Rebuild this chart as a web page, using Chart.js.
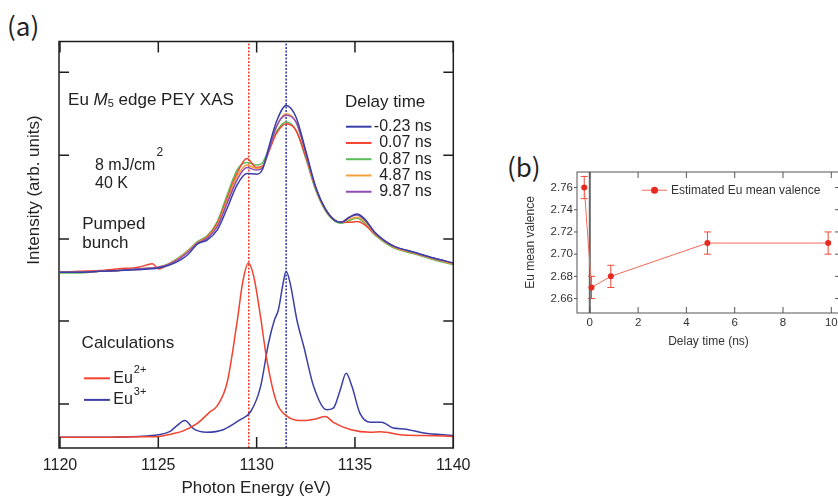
<!DOCTYPE html>
<html>
<head>
<meta charset="utf-8">
<script src="https://cdn.jsdelivr.net/npm/chart.js@4.4.0/dist/chart.umd.min.js"></script>
<style>
html, body { margin: 0; padding: 0; background: #fff; width: 838px; height: 497px; overflow: hidden; position: relative; }
canvas { position: absolute; }
.plabel { position: absolute; font-family: "Noto Sans CJK JP", sans-serif; font-size: 26px; line-height: 26px; color: #222; }
</style>
</head>
<body>
<div class="plabel" style="left:7px;top:12px">(a)</div>
<div class="plabel" style="left:507px;top:153px">(b)</div>
<canvas id="chartA" width="480" height="497" style="left:0;top:0"></canvas>
<canvas id="chartB" width="360" height="210" style="left:490px;top:140px"></canvas>
<script>
// ---- panel (a): Eu M5 edge XAS ----
var energyGrid = [1120, 1121, 1122, 1123, 1124, 1124.7, 1125, 1125.5, 1126, 1126.5, 1127, 1127.5, 1128, 1128.5, 1129, 1129.5, 1130, 1130.3, 1130.6, 1131, 1131.5, 1132, 1132.5, 1133, 1133.5, 1134, 1134.3, 1134.7, 1135.1, 1135.5, 1136, 1136.5, 1137, 1138, 1139, 1140];

var delayLabels = ["-0.23 ns", "0.07 ns", "0.87 ns", "4.87 ns", "9.87 ns"];
var xasM023 = [2.01,2.01,2.02,2.03,2.04,2.05,2.06,2.09,2.14,2.22,2.35,2.40,2.52,2.78,3.06,3.20,3.19,3.25,3.50,3.82,4.02,3.88,3.47,3.04,2.77,2.63,2.61,2.67,2.71,2.65,2.49,2.39,2.32,2.25,2.18,2.12];
var xas007 = [2.01,2.02,2.03,2.05,2.07,2.11,2.05,2.10,2.17,2.26,2.37,2.44,2.60,2.90,3.20,3.38,3.27,3.29,3.45,3.68,3.80,3.72,3.40,3.02,2.76,2.63,2.61,2.61,2.62,2.58,2.47,2.38,2.31,2.24,2.17,2.11];
var xas087 = [2.00,2.00,2.02,2.03,2.05,2.06,2.07,2.11,2.18,2.27,2.38,2.45,2.62,2.94,3.24,3.33,3.30,3.33,3.48,3.70,3.82,3.72,3.38,3.00,2.75,2.62,2.60,2.63,2.66,2.60,2.46,2.37,2.30,2.23,2.16,2.10];
var xas487 = [2.01,2.01,2.02,2.03,2.05,2.06,2.07,2.10,2.17,2.26,2.37,2.43,2.58,2.87,3.16,3.30,3.26,3.28,3.46,3.76,3.92,3.82,3.44,3.02,2.76,2.63,2.61,2.65,2.67,2.62,2.48,2.38,2.31,2.24,2.17,2.11];
var xas987 = [2.01,2.01,2.02,2.03,2.05,2.06,2.07,2.10,2.16,2.25,2.36,2.42,2.56,2.84,3.12,3.27,3.24,3.27,3.46,3.76,3.90,3.82,3.45,3.03,2.77,2.63,2.61,2.67,2.70,2.64,2.49,2.39,2.32,2.25,2.18,2.12];

var calcEnergyEu2 = [1120, 1122, 1124, 1125, 1125.7, 1126.3, 1127, 1127.6, 1128, 1128.5, 1129, 1129.3, 1129.58, 1129.85, 1130.2, 1130.5, 1131, 1131.5, 1132.4, 1133, 1133.5, 1133.9, 1134.8, 1135.8, 1136.3, 1137.3, 1138.5, 1140];
var calcEu2 = [0.02,0.02,0.025,0.03,0.06,0.10,0.19,0.32,0.40,0.68,1.40,1.90,2.12,1.96,1.47,0.98,0.45,0.28,0.22,0.24,0.27,0.20,0.11,0.08,0.085,0.05,0.04,0.03];
var calcEnergyEu3 = [1120, 1122, 1124, 1125, 1125.6, 1125.95, 1126.35, 1126.8, 1127.45, 1128.3, 1129.15, 1129.7, 1130.2, 1130.6, 1130.9, 1131.1, 1131.35, 1131.5, 1131.7, 1132.05, 1132.4, 1132.9, 1133.55, 1133.9, 1134.25, 1134.55, 1134.85, 1135.25, 1135.8, 1136.35, 1136.95, 1137.5, 1138.5, 1140];
var calcEu3 = [0.02,0.02,0.03,0.05,0.09,0.16,0.22,0.12,0.08,0.11,0.23,0.33,0.63,1.15,1.43,1.55,1.88,2.02,1.88,1.43,1.11,0.63,0.35,0.37,0.59,0.79,0.63,0.31,0.20,0.20,0.13,0.12,0.07,0.04];

var peakLines = [1129.6, 1131.5];
var energyTicks = [1120, 1125, 1130, 1135, 1140];
var intensityTicks = [0.42, 1.42, 2.41, 3.42, 4.42];

// ---- panel (b): mean valence ----
var delayTime = [-0.23, 0.07, 0.87, 4.87, 9.87];
var meanValence = [2.76, 2.67, 2.68, 2.71, 2.71];
var valenceErr = [0.01, 0.01, 0.01, 0.01, 0.01];
var delayTicks = [0, 2, 4, 6, 8, 10];
var valenceTicks = [2.66, 2.68, 2.70, 2.72, 2.74, 2.76];

var FONT = '"Liberation Sans", Arial, sans-serif';
var delayColors = ["#3a3fa6", "#f1432f", "#5bbd5a", "#f4a040", "#8e4cb5"];
var eu2Color = "#f1432f", eu3Color = "#3a3fa6";
var yMinA = -0.11, yMaxA = 4.79;
var yMinB = 2.647, yMaxB = 2.774;

function xy(xs, ys) {
    return xs.map(function (v, i) { return {x: v, y: ys[i]}; });
}
function font(size, style) {
    return (style ? style + " " : "") + size + "px " + FONT;
}

// frame with ticks on all four sides (positive = inward)
function drawFrame(chart, o) {
    var ctx = chart.ctx, a = chart.chartArea, x = chart.scales.x, y = chart.scales.y;
    ctx.save();
    ctx.strokeStyle = o.color;
    ctx.lineWidth = o.width;
    ctx.strokeRect(a.left, a.top, a.right - a.left, a.bottom - a.top);
    ctx.beginPath();
    x.ticks.forEach(function (t) {
        var p = x.getPixelForValue(t.value);
        ctx.moveTo(p, a.bottom); ctx.lineTo(p, a.bottom - o.bottom);
        ctx.moveTo(p, a.top); ctx.lineTo(p, a.top + o.top);
    });
    y.ticks.forEach(function (t) {
        var p = y.getPixelForValue(t.value);
        ctx.moveTo(a.left, p); ctx.lineTo(a.left + o.left, p);
        ctx.moveTo(a.right, p); ctx.lineTo(a.right - o.right, p);
    });
    ctx.stroke();
    ctx.restore();
}

var decorA = {
    id: "decorA",
    afterDatasetsDraw: function (chart) {
        var ctx = chart.ctx, x = chart.scales.x, y = chart.scales.y, a = chart.chartArea;
        drawFrame(chart, {color: "#1e1e1e", width: 1.5, left: 10, right: 10, top: 11, bottom: 11});
        ctx.save();
        ctx.fillStyle = "#222";
        ctx.textBaseline = "middle";

        // y axis title
        ctx.save();
        ctx.translate(a.left - 24.5, y.getPixelForValue(3.0));
        ctx.rotate(-Math.PI / 2);
        ctx.textAlign = "center";
        ctx.font = font(17);
        ctx.fillText("Intensity (arb. units)", 0, 0);
        ctx.restore();

        // Eu M5 edge PEY XAS
        var px = x.getPixelForValue(1120.41), py = y.getPixelForValue(4.08);
        ctx.font = font(17); ctx.fillText("Eu ", px, py); px += ctx.measureText("Eu ").width;
        ctx.font = font(17, "italic"); ctx.fillText("M", px, py); px += ctx.measureText("M").width;
        ctx.font = font(11); ctx.fillText("5", px, py + 4); px += ctx.measureText("5").width;
        ctx.font = font(17); ctx.fillText(" edge PEY XAS", px, py);

        // conditions
        px = x.getPixelForValue(1121.78); py = y.getPixelForValue(3.30);
        ctx.font = font(16);
        ctx.fillText("8 mJ/cm", px, py);
        var w = ctx.measureText("8 mJ/cm").width;
        ctx.font = font(12); ctx.fillText("2", px + w + 1, py - 12);
        ctx.font = font(16);
        ctx.fillText("40 K", px, y.getPixelForValue(3.08));
        ctx.font = font(17);
        ctx.fillText("Pumped", x.getPixelForValue(1121.13), y.getPixelForValue(2.59));
        ctx.fillText("bunch", x.getPixelForValue(1121.13), y.getPixelForValue(2.36));
        ctx.fillText("Calculations", x.getPixelForValue(1121.1), y.getPixelForValue(1.157));

        // delay legend
        ctx.fillText("Delay time", x.getPixelForValue(1134.49), y.getPixelForValue(4.06));
        ctx.font = font(16);
        ctx.textAlign = "right";
        ctx.lineWidth = 2;
        delayLabels.forEach(function (lab, i) {
            var ly = y.getPixelForValue(3.763 - i * 0.196);
            ctx.strokeStyle = delayColors[i];
            ctx.beginPath();
            ctx.moveTo(x.getPixelForValue(1134.54), ly);
            ctx.lineTo(x.getPixelForValue(1135.84), ly);
            ctx.stroke();
            ctx.fillText(lab, x.getPixelForValue(1138.9), ly);
        });

        // calculation legend
        ctx.textAlign = "left";
        [["2+", eu2Color, 0.73], ["3+", eu3Color, 0.47]].forEach(function (e) {
            var ly = y.getPixelForValue(e[2]);
            ctx.strokeStyle = e[1];
            ctx.beginPath();
            ctx.moveTo(x.getPixelForValue(1121.22), ly);
            ctx.lineTo(x.getPixelForValue(1122.54), ly);
            ctx.stroke();
            var tx = x.getPixelForValue(1122.71);
            ctx.font = font(16);
            ctx.fillText("Eu", tx, ly);
            var tw = ctx.measureText("Eu").width;
            ctx.font = font(11);
            ctx.fillText(e[0], tx + tw + 1, ly - 8);
        });
        ctx.restore();
    }
};

var pumpedSeries = [xasM023, xas007, xas087, xas487, xas987];
var drawOrder = [0, 4, 3, 1, 2];
var datasetsA = drawOrder.map(function (i) {
    return {
        label: delayLabels[i],
        data: xy(energyGrid, pumpedSeries[i]),
        borderColor: delayColors[i],
        borderWidth: 1.5,
        pointRadius: 0,
        cubicInterpolationMode: "monotone"
    };
});
datasetsA.push({
    label: "Eu2+",
    data: xy(calcEnergyEu2, calcEu2),
    borderColor: eu2Color,
    borderWidth: 1.5,
    pointRadius: 0,
    cubicInterpolationMode: "monotone"
});
datasetsA.push({
    label: "Eu3+",
    data: xy(calcEnergyEu3, calcEu3),
    borderColor: eu3Color,
    borderWidth: 1.5,
    pointRadius: 0,
    cubicInterpolationMode: "monotone"
});
peakLines.forEach(function (e, i) {
    datasetsA.push({
        label: "peak" + i,
        data: xy([e, e], [yMinA, yMaxA]),
        borderColor: i === 0 ? eu2Color : eu3Color,
        borderWidth: 1.6,
        borderDash: [2, 1.5],
        pointRadius: 0
    });
});

new Chart(document.getElementById("chartA"), {
    type: "line",
    data: {datasets: datasetsA},
    options: {
        responsive: false,
        animation: false,
        layout: {padding: {top: 41.5, right: 26.7, left: 0, bottom: 0}},
        plugins: {legend: {display: false}, tooltip: {enabled: false}},
        scales: {
            x: {
                type: "linear",
                min: 1119.95,
                max: 1140,
                afterBuildTicks: function (s) { s.ticks = energyTicks.map(function (v) { return {value: v}; }); },
                afterFit: function (s) { s.height = 49; },
                grid: {display: false, drawTicks: false},
                border: {display: false},
                ticks: {font: {family: FONT, size: 16}, color: "#222", padding: 8, maxRotation: 0, autoSkip: false,
                        callback: function (v) { return String(v); }},
                title: {display: true, text: "Photon Energy (eV)", color: "#222",
                        font: {family: FONT, size: 17}, padding: {top: 0, bottom: -2}}
            },
            y: {
                min: yMinA,
                max: yMaxA,
                afterBuildTicks: function (s) { s.ticks = intensityTicks.map(function (v) { return {value: v}; }); },
                afterFit: function (s) { s.width = 59; },
                grid: {display: false, drawTicks: false},
                border: {display: false},
                ticks: {display: false}
            }
        }
    },
    plugins: [decorA]
});

// ---- panel (b) ----
var decorB = {
    id: "decorB",
    beforeDatasetsDraw: function (chart) {
        var ctx = chart.ctx, x = chart.scales.x, y = chart.scales.y;
        ctx.save();
        ctx.strokeStyle = "#ee4a3a";
        ctx.lineWidth = 1;
        ctx.beginPath();
        delayTime.forEach(function (t, i) {
            var px = x.getPixelForValue(t);
            var lo = y.getPixelForValue(meanValence[i] - valenceErr[i]);
            var hi = y.getPixelForValue(meanValence[i] + valenceErr[i]);
            ctx.moveTo(px, lo); ctx.lineTo(px, hi);
            ctx.moveTo(px - 3.5, lo); ctx.lineTo(px + 3.5, lo);
            ctx.moveTo(px - 3.5, hi); ctx.lineTo(px + 3.5, hi);
        });
        ctx.stroke();
        ctx.restore();
    },
    afterDatasetsDraw: function (chart) {
        var ctx = chart.ctx, x = chart.scales.x, y = chart.scales.y;
        drawFrame(chart, {color: "#555", width: 1, left: -3, right: 5, top: 6, bottom: 6});
        ctx.save();
        var ly = y.getPixelForValue(2.7576);
        ctx.strokeStyle = "#f46b5b";
        ctx.lineWidth = 1;
        ctx.beginPath();
        ctx.moveTo(x.getPixelForValue(2.16), ly);
        ctx.lineTo(x.getPixelForValue(3.20), ly);
        ctx.stroke();
        ctx.fillStyle = "#e8291f";
        ctx.beginPath();
        ctx.arc(x.getPixelForValue(2.68), ly, 3.5, 0, Math.PI * 2);
        ctx.fill();
        ctx.fillStyle = "#333";
        ctx.font = font(12);
        ctx.textBaseline = "middle";
        ctx.fillText("Estimated Eu mean valence", x.getPixelForValue(3.36), ly);
        ctx.restore();
    }
};

new Chart(document.getElementById("chartB"), {
    type: "line",
    data: {
        datasets: [
            {
                label: "Estimated Eu mean valence",
                data: xy(delayTime, meanValence),
                borderColor: "#f46b5b",
                borderWidth: 1,
                pointRadius: 3,
                pointBackgroundColor: "#e8291f",
                pointBorderWidth: 0,
                tension: 0
            },
            {
                label: "t0",
                data: xy([0, 0], [yMinB, yMaxB]),
                borderColor: "#666",
                borderWidth: 2,
                pointRadius: 0
            }
        ]
    },
    options: {
        responsive: false,
        animation: false,
        layout: {padding: {top: 32, right: 10, left: 0, bottom: 0}},
        plugins: {legend: {display: false}, tooltip: {enabled: false}},
        scales: {
            x: {
                type: "linear",
                min: -0.53,
                max: 10.36,
                afterBuildTicks: function (s) { s.ticks = delayTicks.map(function (v) { return {value: v}; }); },
                afterFit: function (s) { s.height = 37; },
                grid: {display: false, drawTicks: false},
                border: {display: false},
                ticks: {font: {family: FONT, size: 11.5}, color: "#333", padding: 3, maxRotation: 0, autoSkip: false,
                        callback: function (v) { return String(v); }},
                title: {display: true, text: "Delay time (ns)", color: "#333",
                        font: {family: FONT, size: 12}, padding: {top: 0, bottom: 1}}
            },
            y: {
                min: yMinB,
                max: yMaxB,
                afterBuildTicks: function (s) { s.ticks = valenceTicks.map(function (v) { return {value: v}; }); },
                afterFit: function (s) { s.width = 87; },
                grid: {display: false, drawTicks: false},
                border: {display: false},
                ticks: {font: {family: FONT, size: 11.5}, color: "#333", padding: 4,
                        callback: function (v) { return v.toFixed(2); }},
                title: {display: true, text: "Eu mean valence", color: "#333",
                        font: {family: FONT, size: 12}, padding: {top: 33, bottom: 0}}
            }
        }
    },
    plugins: [decorB]
});
</script>
</body>
</html>
